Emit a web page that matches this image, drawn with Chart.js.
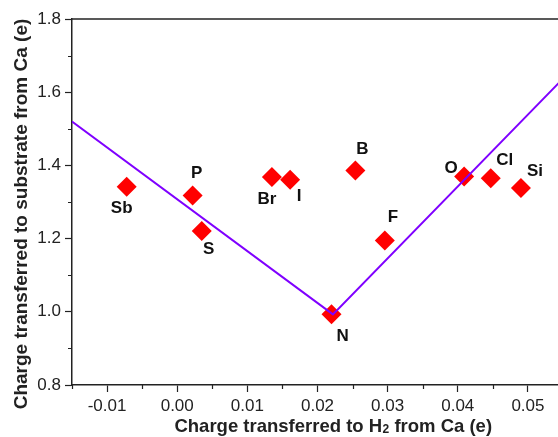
<!DOCTYPE html>
<html>
<head>
<meta charset="utf-8">
<script src="https://cdn.jsdelivr.net/npm/chart.js@4.4.1/dist/chart.umd.min.js"></script>
<style>
  html, body { margin: 0; padding: 0; background: #fff; overflow: hidden; }
  #wrap { width: 558px; height: 437px; overflow: hidden; }
</style>
</head>
<body>
<div id="wrap"><canvas id="chart" width="573" height="437"></canvas></div>
<script>
// data
const elements = ['Sb', 'P', 'S', 'Br', 'I', 'B', 'N', 'F', 'O', 'Cl', 'Si'];
const h2Charge = [-0.0072, 0.0022, 0.0035, 0.0135, 0.0161, 0.0254, 0.0220, 0.0296, 0.0409, 0.0447, 0.0490];
const substrateCharge = [1.342, 1.318, 1.221, 1.368, 1.361, 1.386, 0.993, 1.195, 1.370, 1.365, 1.338];
const fitX = [-0.015, 0.0222, 0.055];
const fitY = [1.520, 0.993, 1.637];
const xTicks = [-0.01, 0, 0.01, 0.02, 0.03, 0.04, 0.05];
const xMinorTicks = [-0.015, -0.005, 0.005, 0.015, 0.025, 0.035, 0.045, 0.055];
const yTicks = [0.8, 1.0, 1.2, 1.4, 1.6, 1.8];
const yMinorTicks = [0.9, 1.1, 1.3, 1.5, 1.7];

// where each element's name sits relative to its marker (px)
const labelOffsets = {
    Sb: [-5, 22], P: [4, -22], S: [7, 18], Br: [-5, 22], I: [9, 17], B: [7, -21],
    N: [11, 22], F: [8, -23], O: [-13, -8], Cl: [14, -18], Si: [14, -17]
};

const FONT = "'Liberation Sans', Arial, sans-serif";
const INK = '#222';

const extras = {
    id: 'extras',
    afterDraw(chart) {
        const ctx = chart.ctx;
        const area = chart.chartArea;
        const xs = chart.scales.x;
        const ys = chart.scales.y;
        ctx.save();

        // top frame line
        ctx.strokeStyle = INK;
        ctx.lineWidth = 1.5;
        ctx.beginPath();
        ctx.moveTo(area.left, area.top);
        ctx.lineTo(area.right, area.top);
        ctx.stroke();

        // minor ticks
        ctx.lineWidth = 1.2;
        ctx.beginPath();
        xMinorTicks.forEach(v => {
            const px = Math.round(xs.getPixelForValue(v)) + 0.5;
            ctx.moveTo(px, area.bottom);
            ctx.lineTo(px, area.bottom + 4);
        });
        yMinorTicks.forEach(v => {
            const py = Math.round(ys.getPixelForValue(v)) + 0.5;
            ctx.moveTo(area.left - 4, py);
            ctx.lineTo(area.left, py);
        });
        ctx.stroke();

        // point labels
        const meta = chart.getDatasetMeta(1);
        ctx.fillStyle = '#111';
        ctx.font = 'bold 17px ' + FONT;
        ctx.textAlign = 'center';
        ctx.textBaseline = 'middle';
        meta.data.forEach((pt, i) => {
            const off = labelOffsets[elements[i]];
            ctx.fillText(elements[i], pt.x + off[0], pt.y + off[1]);
        });

        // x title with subscript
        ctx.fillStyle = INK;
        ctx.textBaseline = 'alphabetic';
        ctx.textAlign = 'left';
        const t1 = 'Charge transferred to H', t2 = '2', t3 = ' from Ca (e)';
        ctx.font = 'bold 18.5px ' + FONT;
        const w1 = ctx.measureText(t1).width, w3 = ctx.measureText(t3).width;
        ctx.font = 'bold 12px ' + FONT;
        const w2 = ctx.measureText(t2).width;
        let x0 = 333 - (w1 + w2 + w3) / 2;
        const by = 432;
        ctx.font = 'bold 18.5px ' + FONT;
        ctx.fillText(t1, x0, by);
        ctx.font = 'bold 12px ' + FONT;
        ctx.fillText(t2, x0 + w1 + 0.5, by + 1);
        ctx.font = 'bold 18.5px ' + FONT;
        ctx.fillText(t3, x0 + w1 + w2 + 0.5, by);

        // y title
        ctx.translate(22, 214);
        ctx.rotate(-Math.PI / 2);
        ctx.textAlign = 'center';
        ctx.textBaseline = 'middle';
        ctx.font = 'bold 19px ' + FONT;
        ctx.fillText('Charge transferred to substrate from Ca (e)', 0, 0);
        ctx.restore();
    }
};

new Chart(document.getElementById('chart'), {
    type: 'scatter',
    data: {
        datasets: [
            {
                label: 'fit',
                data: fitX.map((x, i) => ({ x: x, y: fitY[i] })),
                showLine: true,
                borderColor: '#7f00ff',
                borderWidth: 2,
                pointRadius: 0,
                fill: false,
                order: 0
            },
            {
                label: 'elements',
                data: h2Charge.map((x, i) => ({ x: x, y: substrateCharge[i] })),
                pointStyle: 'rectRot',
                pointRadius: 10,
                backgroundColor: '#ff0000',
                borderColor: '#ff0000',
                borderWidth: 0,
                order: 1
            }
        ]
    },
    options: {
        responsive: false,
        animation: false,
        layout: { padding: { top: 19, left: 0, right: 0, bottom: 0 } },
        plugins: { legend: { display: false }, tooltip: { enabled: false } },
        scales: {
            x: {
                type: 'linear',
                min: -0.015,
                max: 0.055,
                afterBuildTicks: s => { s.ticks = xTicks.map(v => ({ value: v })); },
                afterFit: s => { s.height = 52; },
                grid: { drawOnChartArea: false, drawTicks: true, tickLength: 7, tickColor: INK, tickWidth: 1.2 },
                border: { color: INK, width: 1.5 },
                ticks: {
                    autoSkip: false, maxRotation: 0, padding: 4, color: INK,
                    font: { family: FONT, size: 17 },
                    callback: v => v.toFixed(2)
                }
            },
            y: {
                type: 'linear',
                min: 0.8,
                max: 1.8,
                afterBuildTicks: s => { s.ticks = yTicks.map(v => ({ value: v })); },
                afterFit: s => { s.width = 72; },
                grid: { drawOnChartArea: false, drawTicks: true, tickLength: 7, tickColor: INK, tickWidth: 1.2 },
                border: { color: INK, width: 1.5 },
                ticks: {
                    autoSkip: false, padding: 4, color: INK,
                    font: { family: FONT, size: 17 },
                    callback: v => v.toFixed(1)
                }
            }
        }
    },
    plugins: [extras]
});
</script>
</body>
</html>
